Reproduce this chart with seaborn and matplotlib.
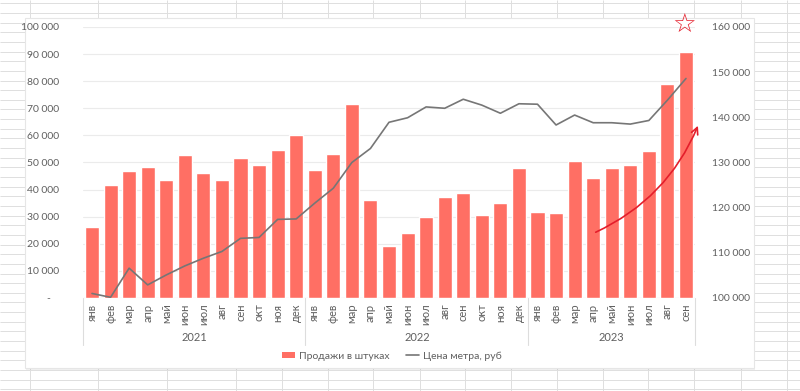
import numpy as np
import pandas as pd
import matplotlib
matplotlib.use("Agg")
import matplotlib.pyplot as plt
import seaborn as sns
from matplotlib.lines import Line2D
from matplotlib.patches import Patch, Rectangle
from matplotlib.collections import LineCollection
from matplotlib.ticker import FuncFormatter, MultipleLocator

# ---------------- data ----------------
months = ["янв", "фев", "мар", "апр", "май", "июн", "июл", "авг", "сен", "окт", "ноя", "дек",
          "янв", "фев", "мар", "апр", "май", "июн", "июл", "авг", "сен", "окт", "ноя", "дек",
          "янв", "фев", "мар", "апр", "май", "июн", "июл", "авг", "сен"]
years = ["2021"] * 12 + ["2022"] * 12 + ["2023"] * 9

sales = [26100, 41600, 46800, 48500, 43600, 52900, 46100, 43400, 51800, 49100, 54600, 60000,
         47300, 53200, 71700, 36200, 19200, 23900, 29700, 37400, 38600, 30500, 34900, 48100,
         31600, 31400, 50400, 44400, 48100, 49000, 54400, 79000, 90700]

price = [101000, 100150, 106600, 102900, 105100, 107100, 108800, 110300, 113200, 113400, 117400, 117500,
         121000, 124300, 130000, 133100, 138900, 139900, 142300, 142000, 144000, 142700, 140900, 143000,
         142900, 138300, 140500, 138800, 138800, 138500, 139300, 143800, 148600]

series_bar = "Продажи в штуках"
series_line = "Цена метра, руб"

df = pd.DataFrame({"pos": np.arange(len(months)), "month": months, "year": years,
                   "sales": sales, "price": price})

# ---------------- style ----------------
BAR = "#FF6F64"
LINE = "#767676"
TXT = "#5F5F5F"
RED = "#E41E2B"

sns.set_theme(style="white")
plt.rcParams["font.family"] = ["Lato", "DejaVu Sans"]

W, H = 800, 391
fig = plt.figure(figsize=(W / 100, H / 100), dpi=100)
fig.patch.set_facecolor("white")

def fx(x):
    return x / W

def fy(y):
    return 1 - y / H

# spreadsheet background grid
cols = [30, 98, 167, 236, 282, 328, 373, 420, 465, 511, 557, 603, 648, 694, 741, 787]
segs = [[(fx(c), 0), (fx(c), 1)] for c in cols]
r = 3.3
while r < H:
    segs.append([(0, fy(r)), (1, fy(r))])
    r += 9.65
lc = LineCollection(segs, colors="#dedede", linewidths=0.7, transform=fig.transFigure, zorder=-5)
fig.add_artist(lc)

# chart box with faint shadow
shadow = Rectangle((fx(26), fy(370)), fx(754 - 25), (368 - 18) / H, transform=fig.transFigure,
                   facecolor="#000000", alpha=0.06, edgecolor="none", zorder=-4)
fig.add_artist(shadow)
box = Rectangle((fx(25), fy(368)), fx(754 - 25), (368 - 18) / H, transform=fig.transFigure,
                facecolor="white", edgecolor="#e6e6e6", linewidth=0.8, zorder=-3)
fig.add_artist(box)

# ---------------- axes ----------------
ax = fig.add_axes([0.1034, 0.2379, 0.7657, 0.6931])
ax.patch.set_visible(False)

sns.barplot(data=df, x="pos", y="sales", native_scale=True, color=BAR, saturation=1,
            width=0.76, errorbar=None, ax=ax, zorder=2)

ax2 = ax.twinx()
sns.lineplot(data=df, x="pos", y="price", color=LINE, linewidth=1.2, ax=ax2, zorder=3)

ax.set_xlim(-0.5, len(months) - 0.5)
ax.set_ylim(0, 100000)
ax2.set_ylim(100000, 160000)

ax.yaxis.set_major_locator(MultipleLocator(10000))
ax2.yaxis.set_major_locator(MultipleLocator(10000))

def fmt_left(v, p):
    if abs(v) < 1:
        return "-   "
    return f"{int(round(v)):,}".replace(",", " ")

def fmt_right(v, p):
    return f"{int(round(v)):,}".replace(",", " ")

ax.yaxis.set_major_formatter(FuncFormatter(fmt_left))
ax2.yaxis.set_major_formatter(FuncFormatter(fmt_right))

ax.set_xticks(df["pos"])
ax.set_xticklabels(months, rotation=90)
ax.tick_params(axis="x", length=0, pad=4, labelsize=8, labelcolor=TXT)
ax.tick_params(axis="y", length=0, pad=17, labelsize=7.5, labelcolor=TXT)
ax2.tick_params(axis="y", length=0, pad=12, labelsize=7.5, labelcolor=TXT)
for t in ax.get_xticklabels():
    t.set_va("top")
    t.set_ha("center")

ax.set_xlabel("")
ax.set_ylabel("")
ax2.set_xlabel("")
ax2.set_ylabel("")

ax.yaxis.grid(True, color="#ebebeb", linewidth=0.8, zorder=0)
ax.set_axisbelow(True)
for a in (ax, ax2):
    for s in a.spines.values():
        s.set_visible(False)

ax.axhline(0, color="#d9d9d9", linewidth=0.8, zorder=1)

# year groups with separators
trans = ax.get_xaxis_transform()
uyears = list(dict.fromkeys(years))
idx = np.arange(len(years))
bounds = [-0.5]
for y in uyears:
    ii = idx[np.array(years) == y]
    ax.text(ii.mean(), -0.145, y, transform=trans, ha="center", va="center",
            fontsize=8, color=TXT)
    bounds.append(ii.max() + 0.5)
for b in bounds:
    ax.plot([b, b], [0, -0.175], transform=trans, color="#dddddd", linewidth=0.8, clip_on=False)

# legend
handles = [Patch(facecolor=BAR, edgecolor="none"), Line2D([0], [0], color=LINE, linewidth=1.2)]
fig.legend(handles, [series_bar, series_line], loc="center", bbox_to_anchor=(fx(392), fy(356)),
           ncol=2, frameon=False, fontsize=7.5, handlelength=1.2, handleheight=0.6,
           columnspacing=1.6, handletextpad=0.4, labelcolor=TXT)

# hand-drawn style annotations
ax.annotate("☆", xy=(31.9, 1.005), xycoords=("data", "axes fraction"), ha="center", va="center",
            fontsize=19, color=RED, family="DejaVu Sans", annotation_clip=False)
ax2.annotate("", xy=(32.7, 138700), xytext=(27.0, 114300),
             arrowprops=dict(arrowstyle="->", color=RED, lw=1.2,
                             connectionstyle="arc3,rad=0.2", mutation_scale=12),
             annotation_clip=False)

fig.savefig("out.png", dpi=100)
